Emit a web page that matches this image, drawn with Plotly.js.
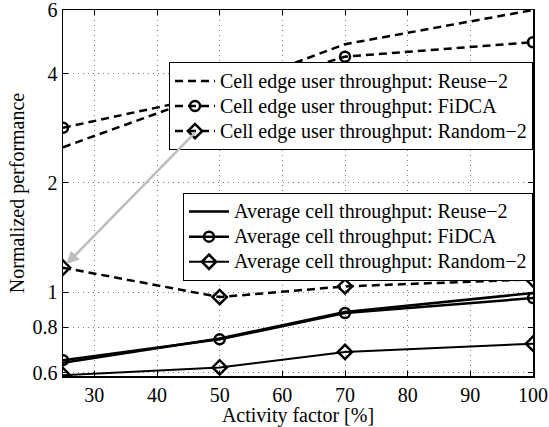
<!DOCTYPE html>
<html>
<head>
<meta charset="utf-8">
<script src="https://cdn.plot.ly/plotly-3.0.1.min.js"></script>
<style>html,body{margin:0;padding:0;background:#fff;}#chart{width:549px;height:427px;}</style>
</head>
<body>
<div id="chart"></div>
<script>
const activity = [25, 50, 70, 100];
const edgeReuse2 = [2.51, 3.59, 4.83, 6.0];
const edgeFiDCA = [2.84, 3.52, 4.46, 4.89];
const edgeRandom2 = [1.168, 0.969, 1.037, 1.085];
const avgReuse2 = [0.638, 0.745, 0.882, 0.994];
const avgFiDCA = [0.649, 0.741, 0.876, 0.963];
const avgRandom2 = [0.59, 0.620, 0.684, 0.721];
const names = [
  'Cell edge user throughput: Reuse\u22122',
  'Cell edge user throughput: FiDCA',
  'Cell edge user throughput: Random\u22122',
  'Average cell throughput: Reuse\u22122',
  'Average cell throughput: FiDCA',
  'Average cell throughput: Random\u22122'
];
const xTicks = [30, 40, 50, 60, 70, 80, 90, 100];
const yTicks = [0.6, 0.8, 1, 2, 4, 6];
const yTickText = ['0.6', '0.8', '1', '2', '4', '6'];

const dash = '8px,5px';
const font = '"Liberation Serif", "Times New Roman", serif';
const circ = {symbol: 'circle-open', size: 10, color: 'black', line: {width: 2.5, color: 'black'}};
const diam = {symbol: 'diamond-open', size: 11, color: 'black', line: {width: 2.5, color: 'black'}};
const big = s => '<span style="font-size:20px">' + s + '</span>';

const traces = [
  {x: activity, y: edgeReuse2, name: big(names[0]), mode: 'lines', line: {color: 'black', width: 2.5, dash: dash}, legend: 'legend'},
  {x: activity, y: edgeFiDCA, name: big(names[1]), mode: 'lines+markers', line: {color: 'black', width: 2.5, dash: dash}, marker: circ, legend: 'legend'},
  {x: activity, y: edgeRandom2, name: big(names[2]), mode: 'lines+markers', line: {color: 'black', width: 2.5, dash: dash}, marker: diam, legend: 'legend'},
  {x: activity, y: avgReuse2, name: big(names[3]), mode: 'lines', line: {color: 'black', width: 2.5}, legend: 'legend2'},
  {x: activity, y: avgFiDCA, name: big(names[4]), mode: 'lines+markers', line: {color: 'black', width: 2.5}, marker: circ, legend: 'legend2'},
  {x: activity, y: avgRandom2, name: big(names[5]), mode: 'lines+markers', line: {color: 'black', width: 2}, marker: diam, legend: 'legend2'}
];

const legendBase = {
  x: 1, xanchor: 'right', yanchor: 'top',
  bgcolor: 'white', bordercolor: 'black', borderwidth: 1,
  font: {family: font, size: 17, color: 'black'},
  tracegroupgap: 0, itemwidth: 40
};

const gridStyle = {showgrid: true, gridcolor: '#777', griddash: '1px,4px', gridwidth: 1, zeroline: false};

const layout = {
  width: 549, height: 427,
  margin: {l: 63, r: 16, t: 10, b: 51},
  paper_bgcolor: 'white', plot_bgcolor: 'white',
  font: {family: font, size: 20, color: 'black'},
  showlegend: true,
  legend: Object.assign({}, legendBase, {y: 0.857}),
  legend2: Object.assign({}, legendBase, {y: 0.50}),
  xaxis: Object.assign({
    range: [25, 100], tickvals: xTicks, ticks: 'inside', ticklen: 5, tickcolor: 'black',
    showline: true, linecolor: 'black', linewidth: 1.5, mirror: 'ticks',
    ticklabeloverflow: 'allow',
    tickfont: {family: font, size: 20, color: 'black'},
    title: {text: 'Activity factor [%]', font: {family: font, size: 20, color: 'black'}, standoff: 0}
  }, gridStyle),
  yaxis: Object.assign({
    type: 'log', range: [Math.log10(0.587), Math.log10(6.001)],
    tickvals: yTicks, ticktext: yTickText, ticks: 'inside', ticklen: 5, tickcolor: 'black',
    showline: true, linecolor: 'black', linewidth: 1.5, mirror: 'ticks',
    ticklabeloverflow: 'allow',
    tickfont: {family: font, size: 20, color: 'black'},
    title: {text: 'Normalized performance', font: {family: font, size: 20, color: 'black'}, standoff: 2}
  }, gridStyle),
  annotations: [{
    x: 25, y: Math.log10(edgeRandom2[0]), xref: 'x', yref: 'y',
    ax: 134, ay: -137, axref: 'pixel', ayref: 'pixel',
    showarrow: true, arrowhead: 2, arrowsize: 1, arrowwidth: 2.5, arrowcolor: '#bdbdbd',
    standoff: 5, text: ''
  }]
};

Plotly.newPlot('chart', traces, layout, {displayModeBar: false, staticPlot: true});
</script>
</body>
</html>
